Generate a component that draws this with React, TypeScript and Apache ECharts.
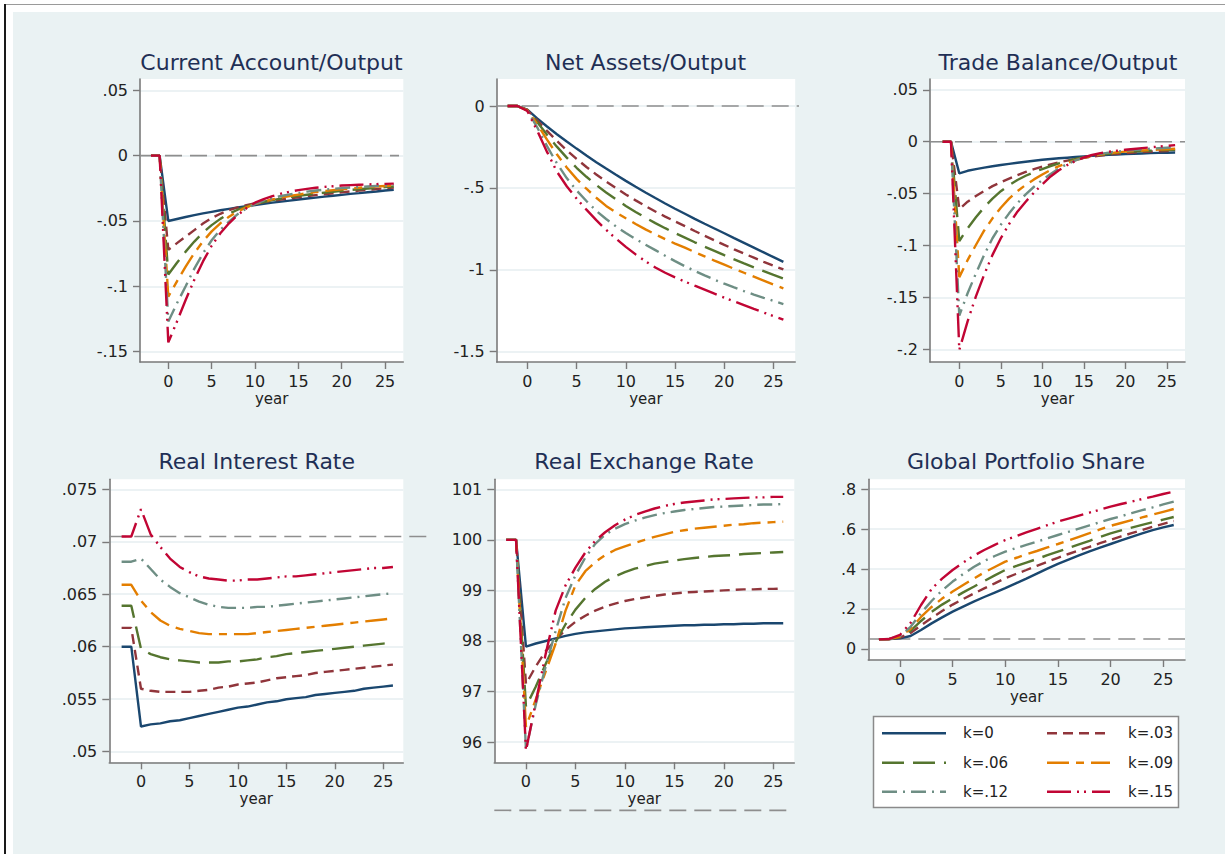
import React, { useEffect, useRef } from "react";
import * as echarts from "echarts";

// ---------------- DATA ----------------
const YEARS = [-2, -1, 0, 1, 2, 3, 4, 5, 6, 7, 8, 9, 10, 11, 12, 13, 14, 15, 16, 17, 18, 19, 20, 21, 22, 23, 24, 25, 26];
const SERIES_NAMES = ["k=0", "k=.03", "k=.06", "k=.09", "k=.12", "k=.15"];
const PANEL_TITLES = ["Current Account/Output", "Net Assets/Output", "Trade Balance/Output", "Real Interest Rate", "Real Exchange Rate", "Global Portfolio Share"];
const X_TICKS = [0, 5, 10, 15, 20, 25];
const Y_TICKS_CA = [-0.15, -0.1, -0.05, 0, 0.05];
const Y_TICKS_NA = [-1.5, -1, -0.5, 0];
const Y_TICKS_TB = [-0.2, -0.15, -0.1, -0.05, 0, 0.05];
const Y_TICKS_RIR = [0.05, 0.055, 0.06, 0.065, 0.07, 0.075];
const Y_TICKS_RER = [96, 97, 98, 99, 100, 101];
const Y_TICKS_GPS = [0, 0.2, 0.4, 0.6, 0.8];
const REF_VALUES = [0, 0, 0, 0.0705, 94.65, 0.05];

// Current Account / Output
const CA_K00 = [0, 0, -0.050, -0.0485, -0.047, -0.0455, -0.0442, -0.043, -0.0418, -0.0407, -0.0397, -0.0387, -0.0378, -0.0369, -0.036, -0.0352, -0.0344, -0.0336, -0.0328, -0.0321, -0.0314, -0.0307, -0.03, -0.0293, -0.0287, -0.028, -0.0274, -0.0267, -0.0261];
const CA_K03 = [0, 0, -0.072, -0.067, -0.062, -0.057, -0.052, -0.0478, -0.0445, -0.0418, -0.0396, -0.0379, -0.0365, -0.0355, -0.0345, -0.0336, -0.0327, -0.0318, -0.031, -0.0302, -0.0295, -0.0288, -0.0281, -0.0274, -0.0268, -0.0262, -0.0256, -0.025, -0.0245];
const CA_K06 = [0, 0, -0.091, -0.082, -0.0735, -0.0658, -0.059, -0.0532, -0.0484, -0.0445, -0.0414, -0.039, -0.0371, -0.0355, -0.0341, -0.0329, -0.0318, -0.0308, -0.0299, -0.0291, -0.0283, -0.0276, -0.0269, -0.0263, -0.0257, -0.0251, -0.0246, -0.0241, -0.0236];
const CA_K09 = [0, 0, -0.108, -0.0962, -0.085, -0.0746, -0.0656, -0.058, -0.0518, -0.0468, -0.0428, -0.0396, -0.037, -0.0352, -0.0335, -0.0321, -0.0309, -0.0298, -0.0288, -0.0279, -0.0271, -0.0264, -0.0257, -0.0251, -0.0246, -0.0241, -0.0236, -0.0232, -0.0228];
const CA_K12 = [0, 0, -0.127, -0.113, -0.1, -0.0865, -0.0748, -0.0648, -0.0568, -0.0505, -0.0448, -0.0404, -0.037, -0.0345, -0.0325, -0.0309, -0.0296, -0.0285, -0.0275, -0.0267, -0.026, -0.0254, -0.0249, -0.0244, -0.024, -0.0236, -0.0232, -0.0228, -0.0224];
const CA_K15 = [0, 0, -0.143, -0.127, -0.1105, -0.095, -0.081, -0.069, -0.0594, -0.0518, -0.0454, -0.0403, -0.036, -0.0333, -0.031, -0.0291, -0.0276, -0.0264, -0.0254, -0.0246, -0.0239, -0.0234, -0.0229, -0.0226, -0.0223, -0.022, -0.0218, -0.0216, -0.0214];

// Net Assets / Output
const NA_K00 = [0, 0, -0.022, -0.075, -0.125, -0.172, -0.217, -0.26, -0.302, -0.343, -0.382, -0.42, -0.457, -0.493, -0.528, -0.562, -0.595, -0.627, -0.658, -0.689, -0.719, -0.748, -0.777, -0.807, -0.836, -0.865, -0.894, -0.923, -0.952];
const NA_K03 = [0, 0, -0.024, -0.088, -0.152, -0.213, -0.27, -0.323, -0.372, -0.418, -0.461, -0.501, -0.54, -0.576, -0.611, -0.644, -0.675, -0.705, -0.733, -0.763, -0.792, -0.82, -0.848, -0.875, -0.901, -0.926, -0.951, -0.975, -0.998];
const NA_K06 = [0, 0, -0.025, -0.098, -0.175, -0.248, -0.315, -0.377, -0.432, -0.482, -0.528, -0.57, -0.61, -0.647, -0.682, -0.715, -0.746, -0.776, -0.804, -0.832, -0.859, -0.885, -0.911, -0.936, -0.961, -0.985, -1.008, -1.031, -1.053];
const NA_K09 = [0, 0, -0.026, -0.11, -0.205, -0.295, -0.375, -0.445, -0.505, -0.56, -0.61, -0.65, -0.685, -0.72, -0.753, -0.784, -0.813, -0.84, -0.865, -0.892, -0.918, -0.944, -0.969, -0.994, -1.018, -1.042, -1.066, -1.09, -1.113];
const NA_K12 = [0, 0, -0.028, -0.13, -0.245, -0.35, -0.44, -0.515, -0.58, -0.64, -0.69, -0.735, -0.775, -0.812, -0.847, -0.88, -0.914, -0.947, -0.978, -1.007, -1.034, -1.06, -1.085, -1.108, -1.13, -1.151, -1.171, -1.19, -1.209];
const NA_K15 = [0, 0, -0.03, -0.15, -0.28, -0.4, -0.49, -0.565, -0.633, -0.697, -0.756, -0.81, -0.86, -0.906, -0.948, -0.986, -1.018, -1.046, -1.072, -1.097, -1.121, -1.146, -1.17, -1.193, -1.216, -1.239, -1.261, -1.283, -1.305];

// Trade Balance / Output
const TB_K00 = [0, 0, -0.0305, -0.028, -0.0264, -0.025, -0.0236, -0.0224, -0.0213, -0.0203, -0.0193, -0.0183, -0.0174, -0.0167, -0.016, -0.0154, -0.0148, -0.0142, -0.0137, -0.0132, -0.0127, -0.0123, -0.0119, -0.0116, -0.0113, -0.011, -0.0108, -0.0106, -0.0104];
const TB_K03 = [0, 0, -0.0649, -0.0578, -0.0523, -0.0475, -0.0428, -0.0391, -0.0356, -0.0322, -0.0291, -0.0264, -0.024, -0.0218, -0.0199, -0.0182, -0.0167, -0.0154, -0.0143, -0.0133, -0.0124, -0.0117, -0.011, -0.0105, -0.01, -0.0096, -0.0092, -0.0089, -0.0086];
const TB_K06 = [0, 0, -0.0957, -0.0834, -0.0728, -0.0632, -0.0548, -0.0477, -0.0418, -0.0369, -0.0328, -0.0293, -0.0263, -0.0234, -0.0208, -0.0186, -0.0167, -0.015, -0.0137, -0.0126, -0.0116, -0.0108, -0.0101, -0.0096, -0.0091, -0.0087, -0.0083, -0.008, -0.0077];
const TB_K09 = [0, 0, -0.1305, -0.114, -0.0995, -0.0855, -0.0738, -0.0636, -0.0548, -0.0476, -0.0416, -0.0363, -0.0316, -0.0272, -0.0236, -0.0205, -0.0178, -0.0155, -0.0137, -0.0123, -0.0112, -0.0103, -0.0096, -0.009, -0.0085, -0.008, -0.0076, -0.0072, -0.0068];
const TB_K12 = [0, 0, -0.1675, -0.146, -0.127, -0.109, -0.093, -0.08, -0.069, -0.0593, -0.0507, -0.0434, -0.0369, -0.031, -0.0258, -0.0215, -0.018, -0.0153, -0.0132, -0.0117, -0.0105, -0.0095, -0.0087, -0.008, -0.0074, -0.0068, -0.0063, -0.0058, -0.0054];
const TB_K15 = [0, 0, -0.2005, -0.173, -0.149, -0.128, -0.109, -0.093, -0.0793, -0.0674, -0.0578, -0.049, -0.041, -0.0335, -0.0275, -0.0225, -0.0185, -0.0152, -0.0128, -0.011, -0.0097, -0.0087, -0.0078, -0.007, -0.0062, -0.0055, -0.0047, -0.004, -0.0033];

// Real Interest Rate
const RIR_K00 = [0.06, 0.06, 0.0524, 0.0526, 0.0527, 0.0529, 0.053, 0.0532, 0.0534, 0.0536, 0.0538, 0.054, 0.0542, 0.0543, 0.0545, 0.0547, 0.0548, 0.055, 0.0551, 0.0552, 0.0554, 0.0555, 0.0556, 0.0557, 0.0558, 0.056, 0.0561, 0.0562, 0.0563];
const RIR_K03 = [0.0618, 0.0618, 0.056, 0.0558, 0.0557, 0.0557, 0.0557, 0.0557, 0.0558, 0.0559, 0.0561, 0.0562, 0.0564, 0.0565, 0.0566, 0.0568, 0.057, 0.0571, 0.0572, 0.0573, 0.0575, 0.0576, 0.0577, 0.0578, 0.0579, 0.058, 0.0581, 0.0582, 0.0583];
const RIR_K06 = [0.0639, 0.0639, 0.0598, 0.0593, 0.059, 0.0588, 0.0587, 0.0586, 0.0585, 0.0585, 0.0585, 0.0586, 0.0586, 0.0587, 0.0588, 0.059, 0.0591, 0.0593, 0.0594, 0.0595, 0.0596, 0.0597, 0.0598, 0.0599, 0.06, 0.0601, 0.0602, 0.0603, 0.0604];
const RIR_K09 = [0.0659, 0.0659, 0.0644, 0.0633, 0.0625, 0.062, 0.0617, 0.0615, 0.0613, 0.0612, 0.0612, 0.0612, 0.0612, 0.0612, 0.0613, 0.0614, 0.0615, 0.0616, 0.0617, 0.0618, 0.0619, 0.062, 0.0621, 0.0622, 0.0623, 0.0624, 0.0625, 0.0626, 0.0627];
const RIR_K12 = [0.0681, 0.0681, 0.0684, 0.0674, 0.0664, 0.0657, 0.0651, 0.0647, 0.0643, 0.064, 0.0638, 0.0637, 0.0637, 0.0637, 0.0638, 0.0638, 0.0639, 0.064, 0.0641, 0.0642, 0.0643, 0.0644, 0.0645, 0.0646, 0.0647, 0.0648, 0.0649, 0.065, 0.0651];
const RIR_K15 = [0.0705, 0.0705, 0.0731, 0.0707, 0.0695, 0.0684, 0.0676, 0.0671, 0.0667, 0.0665, 0.0664, 0.0663, 0.0663, 0.0664, 0.0664, 0.0665, 0.0666, 0.0667, 0.0667, 0.0668, 0.0669, 0.067, 0.0671, 0.0672, 0.0673, 0.0674, 0.0675, 0.0675, 0.0676];

// Real Exchange Rate
const RER_K00 = [100, 100, 97.89, 97.95, 98.0, 98.05, 98.1, 98.14, 98.17, 98.19, 98.21, 98.23, 98.25, 98.26, 98.27, 98.28, 98.29, 98.3, 98.31, 98.31, 98.32, 98.32, 98.33, 98.33, 98.34, 98.34, 98.35, 98.35, 98.35];
const RER_K03 = [100, 100, 97.15, 97.5, 97.8, 98.02, 98.22, 98.38, 98.5, 98.6, 98.68, 98.74, 98.79, 98.83, 98.86, 98.89, 98.92, 98.94, 98.96, 98.97, 98.98, 98.99, 99.0, 99.01, 99.02, 99.02, 99.03, 99.03, 99.04];
const RER_K06 = [100, 100, 96.7, 97.1, 97.55, 97.98, 98.33, 98.62, 98.85, 99.03, 99.17, 99.28, 99.36, 99.43, 99.48, 99.53, 99.56, 99.59, 99.62, 99.64, 99.66, 99.68, 99.69, 99.7, 99.72, 99.73, 99.74, 99.75, 99.76];
const RER_K09 = [100, 100, 96.3, 96.85, 97.4, 97.95, 98.6, 99.1, 99.38, 99.56, 99.7, 99.8, 99.87, 99.94, 100.0, 100.06, 100.11, 100.16, 100.19, 100.22, 100.24, 100.26, 100.28, 100.3, 100.31, 100.33, 100.34, 100.35, 100.36];
const RER_K12 = [100, 100, 95.85, 96.75, 97.5, 98.2, 98.85, 99.3, 99.65, 99.92, 100.1, 100.22, 100.31, 100.38, 100.44, 100.49, 100.53, 100.56, 100.59, 100.61, 100.63, 100.65, 100.66, 100.67, 100.68, 100.69, 100.7, 100.7, 100.71];
const RER_K15 = [100, 100, 95.83, 96.8, 97.75, 98.6, 99.1, 99.45, 99.75, 99.98, 100.15, 100.29, 100.4, 100.49, 100.56, 100.62, 100.67, 100.71, 100.74, 100.76, 100.78, 100.8, 100.81, 100.82, 100.83, 100.84, 100.84, 100.85, 100.85];

// Global Portfolio Share
const GPS_K00 = [0.048, 0.05, 0.053, 0.065, 0.095, 0.128, 0.158, 0.187, 0.212, 0.237, 0.26, 0.282, 0.304, 0.328, 0.352, 0.377, 0.402, 0.426, 0.447, 0.468, 0.488, 0.507, 0.525, 0.543, 0.561, 0.578, 0.594, 0.608, 0.62];
const GPS_K03 = [0.048, 0.05, 0.057, 0.08, 0.118, 0.155, 0.19, 0.222, 0.25, 0.277, 0.303, 0.328, 0.354, 0.375, 0.395, 0.416, 0.436, 0.456, 0.475, 0.493, 0.511, 0.529, 0.546, 0.563, 0.579, 0.595, 0.611, 0.626, 0.64];
const GPS_K06 = [0.048, 0.05, 0.06, 0.09, 0.14, 0.185, 0.222, 0.253, 0.283, 0.311, 0.34, 0.368, 0.395, 0.414, 0.432, 0.45, 0.469, 0.487, 0.505, 0.523, 0.541, 0.56, 0.578, 0.593, 0.607, 0.621, 0.634, 0.647, 0.66];
const GPS_K09 = [0.048, 0.05, 0.062, 0.1, 0.16, 0.21, 0.252, 0.287, 0.32, 0.352, 0.383, 0.41, 0.437, 0.455, 0.473, 0.49, 0.508, 0.525, 0.543, 0.561, 0.579, 0.598, 0.616, 0.63, 0.644, 0.658, 0.672, 0.686, 0.7];
const GPS_K12 = [0.048, 0.05, 0.065, 0.11, 0.18, 0.24, 0.293, 0.337, 0.375, 0.41, 0.44, 0.465, 0.487, 0.504, 0.521, 0.537, 0.553, 0.57, 0.586, 0.602, 0.618, 0.634, 0.65, 0.664, 0.679, 0.694, 0.708, 0.723, 0.737];
const GPS_K15 = [0.048, 0.05, 0.07, 0.13, 0.22, 0.3, 0.352, 0.395, 0.432, 0.466, 0.495, 0.521, 0.545, 0.564, 0.583, 0.601, 0.619, 0.637, 0.652, 0.667, 0.682, 0.697, 0.712, 0.725, 0.737, 0.75, 0.762, 0.775, 0.787];

const PANEL_DATA = [
  [CA_K00, CA_K03, CA_K06, CA_K09, CA_K12, CA_K15],
  [NA_K00, NA_K03, NA_K06, NA_K09, NA_K12, NA_K15],
  [TB_K00, TB_K03, TB_K06, TB_K09, TB_K12, TB_K15],
  [RIR_K00, RIR_K03, RIR_K06, RIR_K09, RIR_K12, RIR_K15],
  [RER_K00, RER_K03, RER_K06, RER_K09, RER_K12, RER_K15],
  [GPS_K00, GPS_K03, GPS_K06, GPS_K09, GPS_K12, GPS_K15],
];
const PANEL_Y_TICKS = [Y_TICKS_CA, Y_TICKS_NA, Y_TICKS_TB, Y_TICKS_RIR, Y_TICKS_RER, Y_TICKS_GPS];

// ---------------- LAYOUT & STYLE ----------------
const LAYOUT = [
  { left: 140, top: 79, width: 263.3, height: 283, xMin: -3.264, xMax: 27.1, yMin: -0.158, yMax: 0.0587, titleX: 271.5, titleY: 62, refEnd: 399 },
  { left: 496.7, top: 79, width: 298.5, height: 283, xMin: -3.11, xMax: 27.2, yMin: -1.563, yMax: 0.165, titleX: 645.5, titleY: 62, refEnd: 799 },
  { left: 930, top: 79, width: 255, height: 283, xMin: -3.53, xMax: 27.19, yMin: -0.2122, yMax: 0.0604, titleX: 1058, titleY: 62, refEnd: 1185 },
  { left: 109.3, top: 479.3, width: 294, height: 283, xMin: -3.27, xMax: 27.07, yMin: 0.04899, yMax: 0.07595, titleX: 256.7, titleY: 461, refEnd: 432 },
  { left: 494.3, top: 479.3, width: 300, height: 283, xMin: -3.2, xMax: 27.12, yMin: 95.6, yMax: 101.198, titleX: 644, titleY: 461, refEnd: 794 },
  { left: 868.3, top: 479.3, width: 316.7, height: 180.7, xMin: -3.01, xMax: 27.07, yMin: -0.0551, yMax: 0.8486, titleX: 1026, titleY: 461, refEnd: 1185 },
];
const COLORS = ["#1a476f", "#90353b", "#55752f", "#e37e00", "#6e8e84", "#c10534"];
const DASHES: any[] = ["solid", [10, 6], [22, 9], [22, 7, 8, 7], [15, 6, 2, 6], [24, 6, 2, 5, 2, 6]];
const FONT = '"DejaVu Sans", sans-serif';
const AXIS_COLOR = "#7a7a7a";
const TEXT_COLOR = "#222222";
const TITLE_COLOR = "#1f2f55";
const GRID_LINE = "#e6eef1";
const LINE_W = 2.4;

const fmt = (v: number) => {
  const r = Math.round(v * 100000) / 100000;
  return String(r).replace(/^(-?)0\./, "$1.");
};

export default function App() {
  const ref = useRef<HTMLDivElement>(null);
  useEffect(() => {
    if (!ref.current) return;
    const chart = echarts.init(ref.current, null, { renderer: "svg" });
    const grids = LAYOUT.map((l) => ({
      left: l.left, top: l.top, width: l.width, height: l.height,
      show: true, backgroundColor: "#ffffff", borderWidth: 0, containLabel: false,
    }));
    const xAxes = LAYOUT.map((l, i) => ({
      type: "value", gridIndex: i, min: l.xMin, max: l.xMax,
      name: "year", nameLocation: "middle", nameGap: 29,
      nameTextStyle: { fontSize: 15, color: TEXT_COLOR, fontFamily: FONT },
      axisLine: { show: true, onZero: false, lineStyle: { color: AXIS_COLOR, width: 1.6 } },
      axisTick: { show: true, length: 7, customValues: X_TICKS, lineStyle: { color: AXIS_COLOR, width: 1.4 } },
      axisLabel: { customValues: X_TICKS, margin: 11, fontSize: 16, color: TEXT_COLOR, fontFamily: FONT },
      splitLine: { show: false },
    }));
    const yAxes = LAYOUT.map((l, i) => ({
      type: "value", gridIndex: i, min: l.yMin, max: l.yMax,
      axisLine: { show: true, onZero: false, lineStyle: { color: AXIS_COLOR, width: 1.6 } },
      axisTick: { show: true, length: 7, customValues: PANEL_Y_TICKS[i], lineStyle: { color: AXIS_COLOR, width: 1.4 } },
      axisLabel: { customValues: PANEL_Y_TICKS[i], margin: 12, fontSize: 16, color: TEXT_COLOR, fontFamily: FONT, formatter: (v: number) => fmt(v) },
      splitLine: { show: true, lineStyle: { color: GRID_LINE, width: 1.5 } },
    }));
    const series: any[] = [];
    PANEL_DATA.forEach((set, i) => {
      set.forEach((vals, k) => {
        series.push({
          type: "line", name: SERIES_NAMES[k], xAxisIndex: i, yAxisIndex: i,
          data: YEARS.map((yr, j) => [yr, vals[j]]),
          showSymbol: false, symbol: "none", silent: true, z: 3 + k,
          lineStyle: { color: COLORS[k], width: LINE_W, type: DASHES[k] },
        });
      });
    });
    chart.setOption({ animation: false, grid: grids, xAxis: xAxes, yAxis: yAxes, series });

    const graphics: any[] = [];
    REF_VALUES.forEach((v, i) => {
      const L = LAYOUT[i];
      const p = chart.convertToPixel({ gridIndex: i } as any, [L.xMin, v]) as number[];
      graphics.push({
        type: "line", z: 1, silent: true,
        shape: { x1: L.left, y1: p[1], x2: L.refEnd, y2: p[1] },
        style: { stroke: "#8e8e8e", lineWidth: 1.6, lineDash: [17, 8] },
      });
    });
    PANEL_TITLES.forEach((t, i) => {
      const L = LAYOUT[i];
      graphics.push({
        type: "text", x: L.titleX, y: L.titleY, z: 10,
        style: { text: t, fontSize: 22, fontFamily: FONT, fill: TITLE_COLOR, align: "center", verticalAlign: "middle", textAlign: "center", textVerticalAlign: "middle" },
      });
    });
    // legend box
    graphics.push({
      type: "rect", z: 10, shape: { x: 873.5, y: 716.5, width: 305, height: 91 },
      style: { fill: "#ffffff", stroke: "#8a8a8a", lineWidth: 1.5 },
    });
    const rowsY = [733.3, 762.7, 791.7];
    const colLine = [[882, 946], [1047, 1110]];
    const colText = [963, 1128];
    SERIES_NAMES.forEach((n, k) => {
      const row = Math.floor(k / 2);
      const col = k % 2;
      const y = rowsY[row];
      graphics.push({
        type: "line", z: 11, shape: { x1: colLine[col][0], y1: y, x2: colLine[col][1], y2: y },
        style: { stroke: COLORS[k], lineWidth: LINE_W, lineDash: Array.isArray(DASHES[k]) ? DASHES[k] : null },
      });
      graphics.push({
        type: "text", z: 11, x: colText[col], y,
        style: { text: n, fontSize: 15, fontFamily: FONT, fill: TEXT_COLOR, align: "left", verticalAlign: "middle", textAlign: "left", textVerticalAlign: "middle" },
      });
    });
    chart.setOption({ graphic: graphics });
    return () => chart.dispose();
  }, []);

  return (
    <div style={{ position: "absolute", left: 0, top: 0, width: 1225, height: 854, background: "#ffffff", overflow: "hidden" }}>
      <div style={{ position: "absolute", left: 4, top: 4, width: 1221, height: 1, background: "#9a9a9a" }} />
      <div style={{ position: "absolute", left: 4, top: 4, width: 2, height: 850, background: "#1a1a1a" }} />
      <div style={{ position: "absolute", left: 13, top: 12, width: 1212, height: 842, background: "#eaf2f3" }} />
      <div ref={ref} style={{ position: "absolute", left: 0, top: 0, width: 1225, height: 854 }} />
    </div>
  );
}
